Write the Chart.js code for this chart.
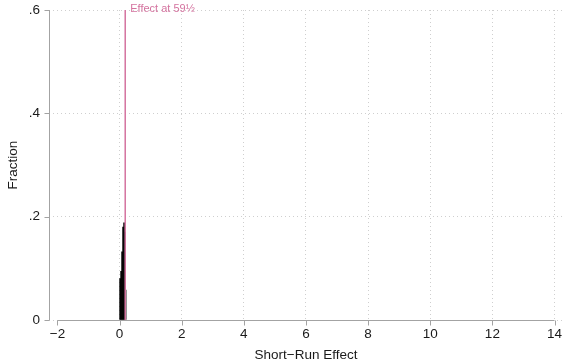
<!DOCTYPE html>
<html>
<head>
<meta charset="utf-8">
<script src="https://cdn.jsdelivr.net/npm/chart.js@4/dist/chart.umd.min.js"></script>
<style>
  html, body { margin: 0; padding: 0; background: #ffffff; }
  #wrap { width: 565px; height: 364px; }
</style>
</head>
<body>
<div id="wrap"><canvas id="chart" width="565" height="364"></canvas></div>
<script>
// Histogram of short-run effects (fraction of observations per bin)
const binWidth = 0.032;
const binLeft = [0.000, 0.032, 0.064, 0.096, 0.128, 0.160, 0.192];
const binFraction = [0.080, 0.094, 0.132, 0.180, 0.188, 0.170, 0.058];

// Reference effect marker
const markerValue = 0.18;
const markerLabel = 'Effect at 59\u00BD';

// Axis ticks
const xTicks = [-2, 0, 2, 4, 6, 8, 10, 12, 14];
const yTicks = [0, 0.2, 0.4, 0.6];
const xTitle = 'Short\u2212Run Effect';
const yTitle = 'Fraction';

const FONT = "'Liberation Sans', Arial, Helvetica, sans-serif";
const TEXT = '#1a1a1a';
const AXIS = '#a3a3a3';
const GRID = '#cfcfcf';
const PINK = '#d4739f';

const fmtY = v => v === 0 ? '0' : String(Math.round(v * 10) / 10).replace(/^0/, '');
const fmtX = v => v < 0 ? '\u2212' + Math.abs(v) : String(v);

const barData = binLeft.map((l, i) => ({ x: l + binWidth / 2, y: binFraction[i] }));
const barColors = binFraction.map((_, i) => i === binFraction.length - 1 ? '#8c8c8c' : '#000000');

// Axis lines, tick marks, titles and marker label
const decorations = {
  id: 'decorations',
  afterDraw(chart) {
    const { ctx, scales: { x, y } } = chart;
    ctx.save();
    ctx.strokeStyle = AXIS;
    ctx.lineWidth = 1;
    // y axis
    const yx = Math.round(chart.chartArea.left) + 0.5;
    ctx.beginPath();
    ctx.moveTo(yx, y.getPixelForValue(0.6));
    ctx.lineTo(yx, y.getPixelForValue(0));
    yTicks.forEach(v => {
      const py = Math.round(y.getPixelForValue(v)) + 0.5;
      ctx.moveTo(yx - 5, py);
      ctx.lineTo(yx, py);
    });
    ctx.stroke();
    // x axis
    const xy = Math.round(y.getPixelForValue(0)) + 0.5;
    ctx.beginPath();
    ctx.moveTo(x.getPixelForValue(xTicks[0]), xy);
    ctx.lineTo(x.getPixelForValue(xTicks[xTicks.length - 1]), xy);
    xTicks.forEach(v => {
      const px = Math.round(x.getPixelForValue(v)) + 0.5;
      ctx.moveTo(px, xy);
      ctx.lineTo(px, xy + 5);
    });
    ctx.stroke();

    // axis titles
    ctx.fillStyle = TEXT;
    ctx.font = '13.5px ' + FONT;
    ctx.textAlign = 'center';
    ctx.textBaseline = 'alphabetic';
    const cx = (x.getPixelForValue(xTicks[0]) + x.getPixelForValue(xTicks[xTicks.length - 1])) / 2;
    ctx.fillText(xTitle, cx, 359);
    ctx.save();
    ctx.translate(17, (y.getPixelForValue(0) + y.getPixelForValue(0.6)) / 2);
    ctx.rotate(-Math.PI / 2);
    ctx.fillText(yTitle, 0, 0);
    ctx.restore();

    // marker label
    ctx.fillStyle = PINK;
    ctx.font = '11px ' + FONT;
    ctx.textAlign = 'left';
    ctx.fillText(markerLabel, x.getPixelForValue(markerValue) + 5, 12);
    ctx.restore();
  }
};

new Chart(document.getElementById('chart'), {
  data: {
    datasets: [
      {
        type: 'bar',
        data: barData,
        backgroundColor: barColors,
        borderWidth: 0,
        barPercentage: 1,
        categoryPercentage: 1,
        order: 2
      },
      {
        type: 'line',
        data: [{ x: markerValue, y: 0 }, { x: markerValue, y: 0.6 }],
        borderColor: PINK,
        borderWidth: 1.5,
        pointRadius: 0,
        fill: false,
        order: 1
      }
    ]
  },
  options: {
    responsive: false,
    animation: false,
    devicePixelRatio: 1,
    layout: { padding: { top: 10, right: 0, bottom: 0, left: 0 } },
    plugins: { legend: { display: false }, tooltip: { enabled: false } },
    scales: {
      x: {
        type: 'linear',
        offset: false,
        min: -2.2736,
        max: 14.338,
        afterBuildTicks: s => { s.ticks = xTicks.map(v => ({ value: v })); },
        afterFit: s => { s.height = 44; s.paddingLeft = 0; s.paddingRight = 0; },
        ticks: {
          callback: v => fmtX(v),
          color: TEXT,
          font: { family: FONT, size: 13.5 },
          padding: 6,
          maxRotation: 0,
          autoSkip: false
        },
        grid: {
          offset: false,
          drawTicks: false,
          color: c => (c.tick && c.tick.value === -2) ? 'rgba(0,0,0,0)' : GRID,
          lineWidth: 1
        },
        border: { display: false, dash: [1, 3] }
      },
      y: {
        type: 'linear',
        min: 0,
        max: 0.6,
        afterBuildTicks: s => { s.ticks = yTicks.map(v => ({ value: v })); },
        afterFit: s => { s.width = 49; s.paddingTop = 0; s.paddingBottom = 0; },
        ticks: {
          callback: v => fmtY(v),
          color: TEXT,
          font: { family: FONT, size: 13.5 },
          padding: 9
        },
        grid: { drawTicks: false, color: GRID, lineWidth: 1 },
        border: { display: false, dash: [1, 3] }
      }
    }
  },
  plugins: [decorations]
});
</script>
</body>
</html>
